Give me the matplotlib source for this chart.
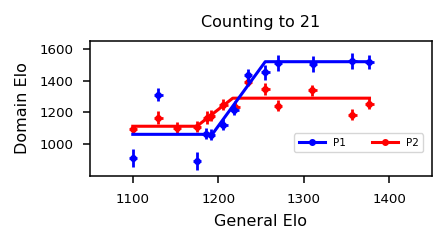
import matplotlib.pyplot as plt
from matplotlib.lines import Line2D

# P1 (blue) measurements
p1_x = [1100, 1130, 1175, 1186, 1191, 1206, 1219, 1235, 1255, 1270, 1311, 1357, 1377]
p1_y = [913, 1313, 895, 1065, 1060, 1124, 1217, 1433, 1452, 1514, 1508, 1522, 1520]
p1_yerr = [55, 40, 55, 35, 35, 35, 35, 40, 45, 50, 50, 50, 45]
# P2 (red) measurements
p2_x = [1100, 1130, 1152, 1175, 1187, 1191, 1206, 1220, 1235, 1255, 1270, 1310, 1357, 1377]
p2_y = [1093, 1167, 1105, 1111, 1167, 1180, 1248, 1235, 1390, 1347, 1241, 1340, 1186, 1254]
p2_yerr = [30, 40, 35, 35, 40, 35, 35, 35, 25, 40, 35, 35, 35, 35]
xerr = 5

# fitted curves
fit1_x = [1100, 1193, 1255, 1377]
fit1_y = [1062, 1062, 1520, 1520]
fit2_x = [1100, 1175, 1217, 1377]
fit2_y = [1113, 1113, 1290, 1290]

fig = plt.figure(figsize=(4.48, 2.46), dpi=100)
ax = fig.add_axes([0.201, 0.285, 0.763, 0.548])

ax.plot(fit2_x, fit2_y, color='red', lw=2.2, zorder=2)
ax.errorbar(p2_x, p2_y, yerr=p2_yerr, xerr=xerr, fmt='.', color='red',
            ms=8, elinewidth=2, zorder=2)
ax.plot(fit1_x, fit1_y, color='blue', lw=2.2, zorder=3)
ax.errorbar(p1_x, p1_y, yerr=p1_yerr, xerr=xerr, fmt='.', color='blue',
            ms=8, elinewidth=2, zorder=3)

ax.set_xlim(1050, 1450)
ax.set_ylim(800, 1650)
ax.set_xticks([1100, 1200, 1300, 1400])
ax.set_yticks([1000, 1200, 1400, 1600])
ax.tick_params(labelsize=9.6, length=5, width=1.1, pad=7)
for s in ax.spines.values():
    s.set_linewidth(1.1)
ax.set_xlabel('General Elo', fontsize=11.5, labelpad=6)
ax.set_ylabel('Domain Elo', fontsize=11.5, labelpad=7)
ax.set_title('Counting to 21', fontsize=11.5, pad=10)

handles = [Line2D([], [], color='blue', marker='.', lw=2.2, ms=8),
           Line2D([], [], color='red', marker='.', lw=2.2, ms=8)]
ax.legend(handles, ['P1', 'P2'], ncol=2, fontsize=7.5, loc='lower right',
          bbox_to_anchor=(0.99, 0.14), handlelength=2.5, columnspacing=2.5)

fig.savefig('out.png', dpi=100)
